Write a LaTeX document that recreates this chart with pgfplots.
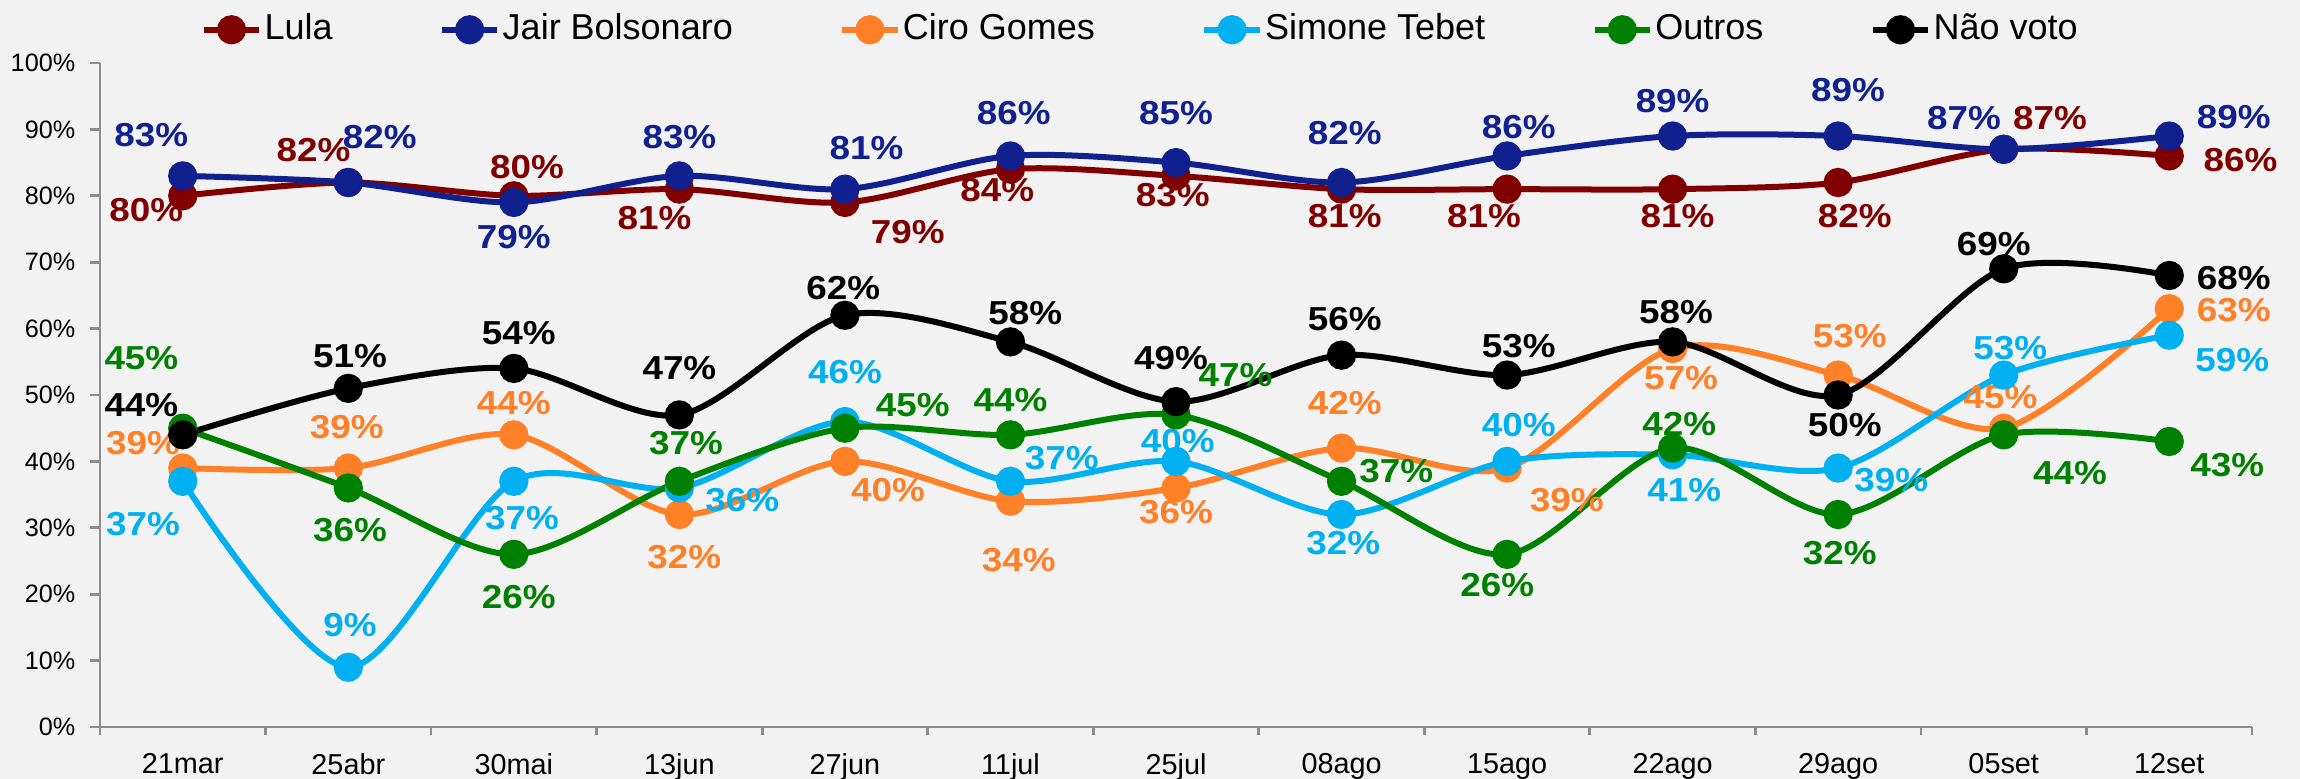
\documentclass[border=0pt]{standalone}
\usepackage{fontspec}
\setmainfont{Liberation Sans}
\usepackage{graphicx}
\usepackage{pgfplots}
\pgfplotsset{compat=1.18}
\definecolor{bgc}{HTML}{F2F2F2}
\definecolor{clula}{HTML}{800000}
\definecolor{cbolso}{HTML}{10218F}
\definecolor{cciro}{HTML}{FF8026}
\definecolor{ctebet}{HTML}{00B0F0}
\definecolor{coutros}{HTML}{008000}
\definecolor{cnao}{HTML}{000000}
\definecolor{axgray}{HTML}{8C8C8C}

\newcommand{\lbl}[4]{\node[font=\fontsize{8.3}{9}\selectfont\bfseries,text=#4,inner sep=0pt] at (axis cs:#1,#2) {\scalebox{1.11}[1]{#3\%}};}

\begin{document}
\begin{tikzpicture}
\fill[bgc] (-25pt,-13pt) rectangle (550pt,181.75pt);
\begin{axis}[
  at={(0,0)}, anchor=south west,
  scale only axis, width=538pt, height=166pt,
  xmin=-0.5, xmax=12.5, ymin=0, ymax=100,
  clip=false,
  axis x line*=bottom, axis y line*=left,
  axis line style={axgray, line width=0.7pt},
  xtick={0,...,12},
  xticklabels={21mar,25abr,30mai,13jun,27jun,11jul,25jul,08ago,15ago,22ago,29ago,05set,12set},
  minor xtick={-0.5,0.5,...,12.5},
  major x tick style={draw=none},
  tick style={axgray, line width=0.7pt},
  tick align=outside,
  major tick length=2.5pt, minor tick length=2.1pt,
  ytick={0,10,...,100},
  yticklabels={0\%,10\%,20\%,30\%,40\%,50\%,60\%,70\%,80\%,90\%,100\%},
  xticklabel style={font=\fontsize{7.2}{8}\selectfont, inner sep=0pt, yshift=-4pt},
  yticklabel style={font=\fontsize{6.3}{7}\selectfont, inner sep=0pt, xshift=-3.5pt},
  every axis plot/.append style={line width=1.5pt, mark=*, mark size=2.9pt, smooth},
  legend columns=6,
  legend style={draw=none, fill=none, font=\fontsize{9}{10}\selectfont,
    at={(axis description cs:0.0465,1.05)}, anchor=west, inner sep=0pt,
    nodes={inner sep=0.6pt},
    /tikz/every even column/.append style={column sep=26pt}},
  legend image code/.code={\draw[mark repeat=2,mark phase=2] plot coordinates {(0cm,0cm) (0.243cm,0cm) (0.486cm,0cm)};},
]
\addplot[color=clula] coordinates {(0,80) (1,82) (2,80) (3,81) (4,79) (5,84) (6,83) (7,81) (8,81) (9,81) (10,82) (11,87) (12,86)};
\addlegendentry{Lula}
\addplot[color=cbolso] coordinates {(0,83) (1,82) (2,79) (3,83) (4,81) (5,86) (6,85) (7,82) (8,86) (9,89) (10,89) (11,87) (12,89)};
\addlegendentry{Jair Bolsonaro}
\addplot[color=cciro] coordinates {(0,39) (1,39) (2,44) (3,32) (4,40) (5,34) (6,36) (7,42) (8,39) (9,57) (10,53) (11,45) (12,63)};
\addlegendentry{Ciro Gomes}
\addplot[color=ctebet] coordinates {(0,37) (1,9) (2,37) (3,36) (4,46) (5,37) (6,40) (7,32) (8,40) (9,41) (10,39) (11,53) (12,59)};
\addlegendentry{Simone Tebet}
\addplot[color=coutros] coordinates {(0,45) (1,36) (2,26) (3,37) (4,45) (5,44) (6,47) (7,37) (8,26) (9,42) (10,32) (11,44) (12,43)};
\addlegendentry{Outros}
\addplot[color=cnao] coordinates {(0,44) (1,51) (2,54) (3,47) (4,62) (5,58) (6,49) (7,56) (8,53) (9,58) (10,50) (11,69) (12,68)};
\addlegendentry{Não voto}

% Lula
\lbl{-0.22}{77.8}{80}{clula}
\lbl{0.79}{86.9}{82}{clula}
\lbl{2.08}{84.4}{80}{clula}
\lbl{2.85}{76.6}{81}{clula}
\lbl{4.38}{74.6}{79}{clula}
\lbl{4.92}{80.9}{84}{clula}
\lbl{5.98}{80.1}{83}{clula}
\lbl{7.02}{76.9}{81}{clula}
\lbl{7.86}{76.9}{81}{clula}
\lbl{9.03}{76.9}{81}{clula}
\lbl{10.1}{76.9}{82}{clula}
\lbl{11.28}{91.7}{87}{clula}
\lbl{12.43}{85.4}{86}{clula}
% Bolsonaro
\lbl{-0.19}{89.2}{83}{cbolso}
\lbl{1.19}{88.8}{82}{cbolso}
\lbl{2.0}{73.8}{79}{cbolso}
\lbl{3.0}{88.9}{83}{cbolso}
\lbl{4.13}{87.2}{81}{cbolso}
\lbl{5.02}{92.4}{86}{cbolso}
\lbl{6.0}{92.5}{85}{cbolso}
\lbl{7.02}{89.4}{82}{cbolso}
\lbl{8.07}{90.4}{86}{cbolso}
\lbl{9.0}{94.2}{89}{cbolso}
\lbl{10.06}{95.9}{89}{cbolso}
\lbl{10.76}{91.7}{87}{cbolso}
\lbl{12.39}{91.9}{89}{cbolso}
% Ciro
\lbl{-0.24}{42.7}{39}{cciro}
\lbl{0.99}{45.2}{39}{cciro}
\lbl{2.0}{48.75}{44}{cciro}
\lbl{3.03}{25.6}{32}{cciro}
\lbl{4.26}{35.7}{40}{cciro}
\lbl{5.05}{25.2}{34}{cciro}
\lbl{6.0}{32.3}{36}{cciro}
\lbl{7.02}{48.75}{42}{cciro}
\lbl{8.36}{34.2}{39}{cciro}
\lbl{9.05}{52.5}{57}{cciro}
\lbl{10.07}{58.8}{53}{cciro}
\lbl{10.98}{49.7}{45}{cciro}
\lbl{12.39}{62.8}{63}{cciro}
% Simone
\lbl{-0.24}{30.6}{37}{ctebet}
\lbl{1.01}{15.4}{9}{ctebet}
\lbl{2.05}{31.5}{37}{ctebet}
\lbl{3.38}{34.2}{36}{ctebet}
\lbl{4.0}{53.5}{46}{ctebet}
\lbl{5.31}{40.5}{37}{ctebet}
\lbl{6.01}{43.0}{40}{ctebet}
\lbl{7.01}{27.7}{32}{ctebet}
\lbl{8.07}{45.5}{40}{ctebet}
\lbl{9.07}{35.7}{41}{ctebet}
\lbl{10.32}{37.2}{39}{ctebet}
\lbl{11.04}{57.0}{53}{ctebet}
\lbl{12.38}{55.3}{59}{ctebet}
% Outros
\lbl{-0.25}{55.5}{45}{coutros}
\lbl{1.01}{29.7}{36}{coutros}
\lbl{2.03}{19.6}{26}{coutros}
\lbl{3.04}{42.7}{37}{coutros}
\lbl{4.41}{48.5}{45}{coutros}
\lbl{5.0}{49.2}{44}{coutros}
\lbl{6.36}{53.0}{47}{coutros}
\lbl{7.33}{38.5}{37}{coutros}
\lbl{7.94}{21.4}{26}{coutros}
\lbl{9.04}{45.7}{42}{coutros}
\lbl{10.01}{26.2}{32}{coutros}
\lbl{11.4}{38.2}{44}{coutros}
\lbl{12.35}{39.5}{43}{coutros}
% Nao voto
\lbl{-0.25}{48.5}{44}{cnao}
\lbl{1.01}{55.8}{51}{cnao}
\lbl{2.03}{59.3}{54}{cnao}
\lbl{3.0}{54.0}{47}{cnao}
\lbl{3.99}{66.1}{62}{cnao}
\lbl{5.09}{62.3}{58}{cnao}
\lbl{5.97}{55.5}{49}{cnao}
\lbl{7.02}{61.5}{56}{cnao}
\lbl{8.07}{57.4}{53}{cnao}
\lbl{9.02}{62.5}{58}{cnao}
\lbl{10.04}{45.5}{50}{cnao}
\lbl{10.94}{72.8}{69}{cnao}
\lbl{12.39}{67.6}{68}{cnao}
\end{axis}
\pgfresetboundingbox
\path (-25pt,-13pt) rectangle (550pt,181.75pt);
\end{tikzpicture}
\end{document}
